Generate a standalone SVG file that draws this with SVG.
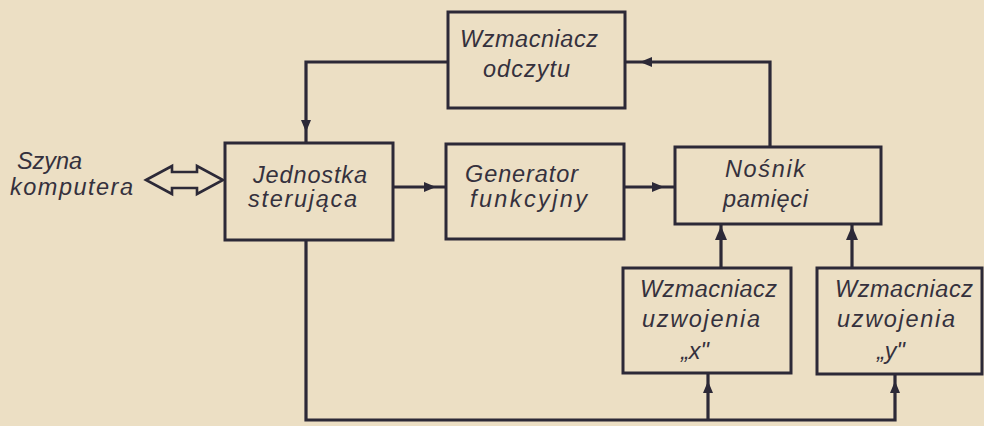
<svg xmlns="http://www.w3.org/2000/svg" width="984" height="426" viewBox="0 0 984 426">
<style>
.bg{fill:#ecdfc4}
.box{fill:none;stroke:#2c2937;stroke-width:3}
.ln{fill:none;stroke:#2c2937;stroke-width:3.2}
.ah{fill:#2c2937}
.t{font-family:"Liberation Sans",Arial,sans-serif;font-style:italic;font-size:23.5px;fill:#35313d}
</style>
<rect class="bg" x="0" y="0" width="984" height="426"/>
<g id="connectors">
<path class="ln" d="M448,62 H306 V143"/>
<polygon class="ah" points="301,120 311,120 306,132"/>
<path class="ln" d="M770,147 V62 H625"/>
<polygon class="ah" points="652,57 652,67 640,62"/>
<path class="ln" d="M393,187 H446"/>
<polygon class="ah" points="424,182 424,192 436,187"/>
<path class="ln" d="M624,187 H675"/>
<polygon class="ah" points="652,182 652,192 664,187"/>
<path class="ln" d="M721,268 V224"/>
<polygon class="ah" points="715,240 727,240 721,226"/>
<path class="ln" d="M852,268 V224"/>
<polygon class="ah" points="846,240 858,240 852,226"/>
<path class="ln" d="M306,240 V420 H895 V374"/>
<path class="ln" d="M708,420 V373"/>
<polygon class="ah" points="703,393 713,393 708,381"/>
<polygon class="ah" points="890,393 900,393 895,381"/>
<path fill="#ecdfc4" stroke="#2c2937" stroke-width="2.6" stroke-linejoin="miter" d="M146,180 L172,166 L172,172 L197,172 L197,166 L223,180 L197,194 L197,188 L172,188 L172,194 Z"/>
</g>
<g id="szyna">
<text class="t" x="17" y="169" textLength="65">Szyna</text>
<text class="t" x="10" y="195" textLength="123">komputera</text>
</g>
<g id="wzmacniacz-odczytu">
<rect class="box" x="448" y="12" width="177" height="96"/>
<text class="t" x="460" y="47" textLength="138">Wzmacniacz</text>
<text class="t" x="483" y="77" textLength="87">odczytu</text>
</g>
<g id="jednostka">
<rect class="box" x="225" y="143" width="168" height="97"/>
<text class="t" x="253" y="183" textLength="114">Jednostka</text>
<text class="t" x="248" y="207" textLength="109">sterująca</text>
</g>
<g id="generator">
<rect class="box" x="446" y="144" width="178" height="95"/>
<text class="t" x="465" y="182" textLength="113">Generator</text>
<text class="t" x="470" y="207" textLength="117">funkcyjny</text>
</g>
<g id="nosnik">
<rect class="box" x="675" y="147" width="206" height="77"/>
<text class="t" x="725" y="177" textLength="80">Nośnik</text>
<text class="t" x="723" y="207" textLength="85">pamięci</text>
</g>
<g id="wzmacniacz-x">
<rect class="box" x="623" y="268" width="168" height="105"/>
<text class="t" x="640" y="297" textLength="137">Wzmacniacz</text>
<text class="t" x="642" y="327" textLength="118">uzwojenia</text>
<text class="t" x="681" y="359">„x"</text>
</g>
<g id="wzmacniacz-y">
<rect class="box" x="817" y="268" width="165" height="106"/>
<text class="t" x="835" y="297" textLength="138">Wzmacniacz</text>
<text class="t" x="837" y="327" textLength="118">uzwojenia</text>
<text class="t" x="877" y="359">„y"</text>
</g>
</svg>
